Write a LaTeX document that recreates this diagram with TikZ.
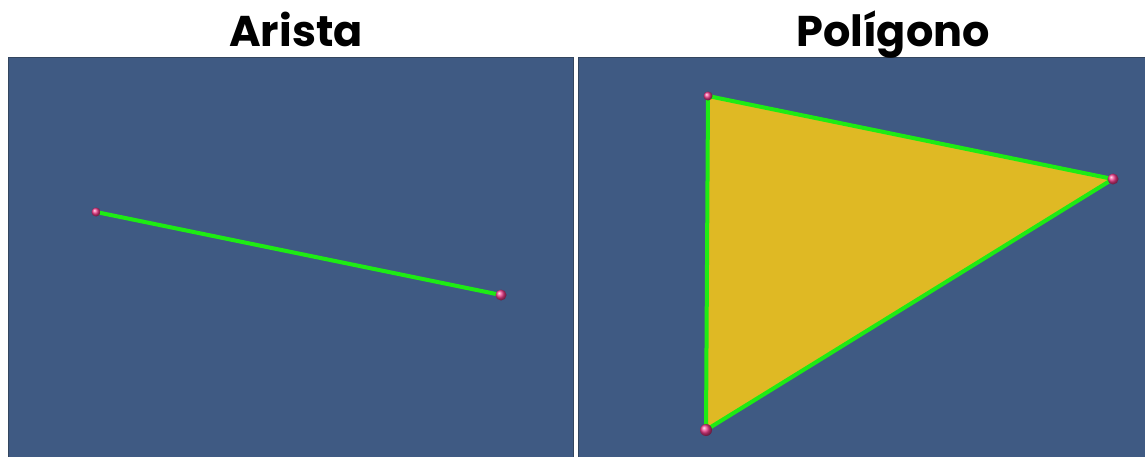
\documentclass[tikz,border=0pt]{standalone}
\usepackage{fontspec}
\setmainfont{Poppins}[BoldFont={* Bold}]
\begin{document}
\begin{tikzpicture}[x=1pt,y=-1pt,
  panel/.style={fill=bgblue,draw=paneledge,line width=0.8},
  edge/.style={draw=edgegreen,line width=4,line cap=round,line join=round},
  vert/.style={circle,inner sep=0pt,minimum size=#1,ball color=vertpink,draw=none},
  title/.style={font=\bfseries\fontsize{43}{48}\selectfont,text=black,inner sep=0pt,anchor=base}]
\definecolor{bgblue}{HTML}{3F5A83}
\definecolor{paneledge}{HTML}{33465F}
\definecolor{edgegreen}{HTML}{1EEB14}
\definecolor{fillyellow}{HTML}{DFB924}
\definecolor{vertpink}{HTML}{F23C8C}
\useasboundingbox[fill=white] (0,0) rectangle (1145,457);
\fill[panel] (8,57) rectangle (573,458);
\fill[panel] (578,57) rectangle (1146,458);
\node[title] (t1) at (296,47) {Arista};
\node[title] (t2) at (893,47) {Polígono};
% left: edge
\coordinate (p1) at (96,212);
\coordinate (p2) at (501,295);
\draw[edge] (p1) -- (p2);
\node[vert=9pt] (v1) at (p1) {};
\node[vert=11pt] (v2) at (p2) {};
% right: polygon
\coordinate (a) at (708,96);
\coordinate (b) at (1113,179);
\coordinate (c) at (706,430);
\filldraw[edge,fill=fillyellow] (a) -- (b) -- (c) -- cycle;
\node[vert=9pt] (va) at (a) {};
\node[vert=11pt] (vb) at (b) {};
\node[vert=12pt] (vc) at (c) {};
\end{tikzpicture}
\end{document}
